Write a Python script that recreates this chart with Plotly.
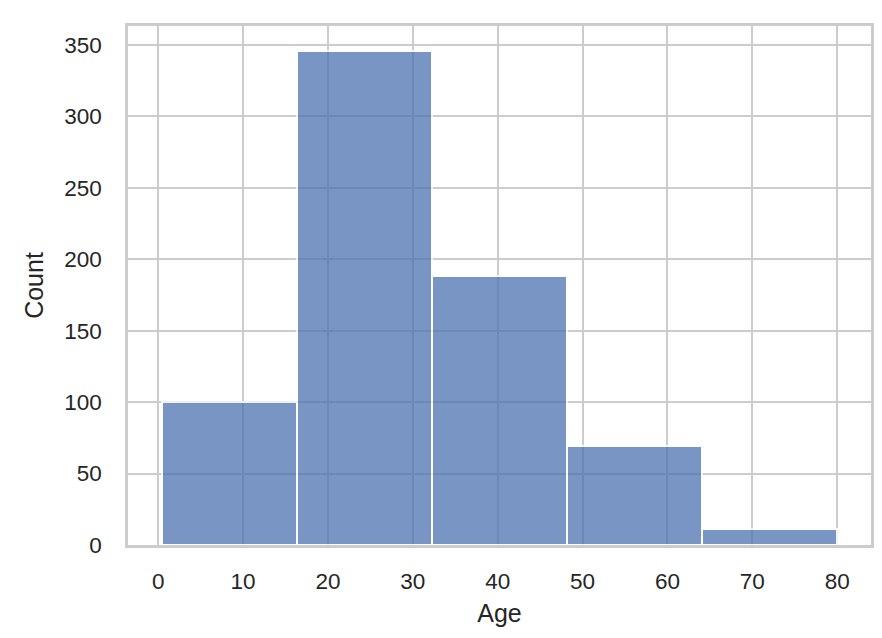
import plotly.graph_objects as go

# Titanic ages, 5 equal-width bins between min and max age
bin_edges = [0.42, 16.336, 32.252, 48.168, 64.084, 80.0]
counts = [100, 346, 188, 69, 11]
x_ticks = [0, 10, 20, 30, 40, 50, 60, 70, 80]
y_ticks = [0, 50, 100, 150, 200, 250, 300, 350]

centers = [(a + b) / 2 for a, b in zip(bin_edges[:-1], bin_edges[1:])]
widths = [b - a for a, b in zip(bin_edges[:-1], bin_edges[1:])]

span = bin_edges[-1] - bin_edges[0]
xr = [bin_edges[0] - 0.05 * span, bin_edges[-1] + 0.05 * span]
yr = [0, max(counts) * 1.05]

font_family = "Liberation Sans, Arial, sans-serif"
grid_col = "#cccccc"
text_col = "#262626"

fig = go.Figure()
fig.add_trace(go.Bar(
    x=centers, y=counts, width=widths,
    marker=dict(color="#4C72B0", line=dict(color="white", width=2)),
    opacity=0.75,
    hoverinfo="x+y",
))

axis_common = dict(
    showgrid=True, gridcolor=grid_col, gridwidth=2,
    showline=True, linecolor=grid_col, linewidth=2.5, mirror=True,
    zeroline=False,
    ticks="outside", tickcolor="rgba(0,0,0,0)",
    tickfont=dict(size=22.5, color=text_col, family=font_family),
    automargin=False,
)

fig.update_layout(
    width=882, height=638,
    margin=dict(l=120, r=19, t=18, b=101),
    paper_bgcolor="white", plot_bgcolor="white",
    showlegend=False,
    bargap=0,
    font=dict(family=font_family, color=text_col),
    xaxis=dict(
        range=xr, tickvals=x_ticks, ticktext=[str(v) for v in x_ticks],
        ticklen=14,
        title=dict(text="Age", font=dict(size=25, color=text_col), standoff=12),
        **axis_common,
    ),
    yaxis=dict(
        range=yr, tickvals=y_ticks, ticktext=[str(v) for v in y_ticks],
        ticklen=19,
        title=dict(text="Count", font=dict(size=25, color=text_col), standoff=14),
        **axis_common,
    ),
)

fig.write_html("out.html")
